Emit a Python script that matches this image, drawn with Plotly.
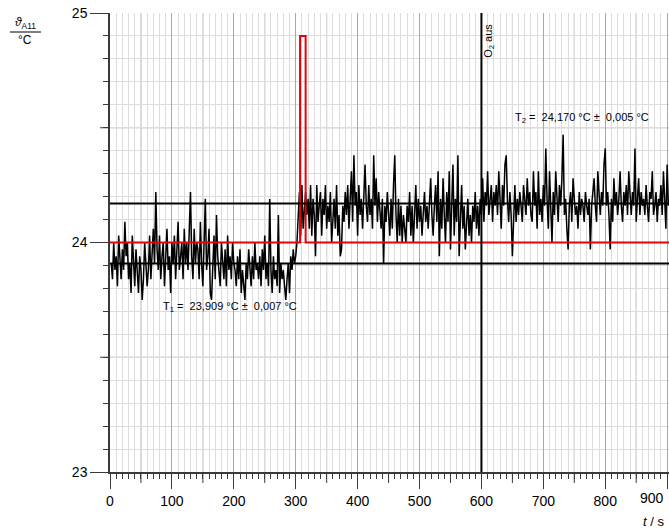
import plotly.graph_objects as go

# ---------------- data ----------------
T_START = 2      # s, first sample
T_STEP = 2       # s, sample interval

temp_before_o2 = [  # °C, t = 2 ... 300 s
    23.91, 23.84, 24.00, 23.88, 23.94, 23.81, 24.03, 23.91, 23.84, 23.97,
    23.88, 24.09, 23.94, 24.00, 23.84, 23.91, 23.78, 24.03, 23.88, 23.81,
    23.97, 23.84, 23.78, 23.94, 23.88, 23.75, 23.84, 24.00, 23.91, 23.81,
    23.88, 24.03, 23.84, 23.94, 24.06, 23.91, 24.22, 23.97, 23.88, 24.03,
    23.84, 23.94, 24.00, 23.81, 23.91, 24.06, 23.88, 23.94, 23.78, 24.00,
    23.91, 24.03, 23.84, 23.97, 24.09, 23.88, 23.94, 24.00, 23.84, 24.06,
    23.91, 24.00, 23.88, 24.12, 24.22, 23.94, 23.84, 24.06, 23.91, 24.00,
    23.97, 23.84, 24.09, 23.91, 23.81, 24.00, 24.19, 23.88, 23.94, 24.06,
    23.78, 23.75, 23.91, 24.03, 23.84, 24.12, 23.94, 23.88, 23.81, 24.00,
    23.91, 23.84, 23.97, 23.81, 24.03, 23.88, 23.94, 23.84, 24.00, 23.91,
    23.88, 23.81, 23.94, 23.84, 23.97, 23.78, 23.88, 23.81, 23.75, 23.91,
    23.84, 23.97, 23.88, 23.81, 23.94, 23.84, 24.00, 23.88, 23.91, 23.84,
    23.94, 23.81, 23.97, 23.88, 24.03, 23.84, 23.91, 23.81, 24.19, 23.88,
    23.78, 23.94, 23.84, 23.88, 23.81, 24.12, 23.78, 23.91, 23.84, 23.88,
    23.81, 23.75, 23.84, 23.91, 23.78, 23.94, 23.88, 23.97, 23.91, 23.94,
]
temp_after_o2 = [  # °C, t = 302 ... 902 s
    24.00, 24.09, 24.22, 24.03, 24.25, 24.06, 24.16, 24.22, 24.12, 24.19,
    24.06, 24.25, 24.03, 24.19, 24.12, 23.94, 24.25, 24.09, 24.16, 24.22,
    24.03, 24.19, 24.12, 24.25, 24.06, 24.16, 24.09, 24.22, 24.00, 24.12,
    24.19, 24.06, 24.25, 24.03, 24.12, 23.94, 23.97, 24.16, 24.09, 24.22,
    24.12, 24.25, 24.06, 24.19, 24.31, 24.09, 24.38, 24.16, 24.22, 24.03,
    24.25, 24.12, 24.19, 24.06, 24.22, 24.34, 24.16, 24.09, 24.25, 24.12,
    24.19, 24.06, 24.38, 24.16, 24.28, 24.09, 24.22, 24.12, 24.06, 24.19,
    23.91, 24.16, 24.09, 24.22, 24.12, 24.03, 24.19, 24.06, 24.25, 24.38,
    24.12, 24.00, 24.19, 24.03, 24.16, 24.00, 24.12, 24.06, 24.00, 24.16,
    24.09, 24.22, 24.03, 24.16, 24.00, 24.12, 24.25, 24.06, 24.19, 24.09,
    24.16, 24.03, 24.12, 24.22, 24.09, 24.16, 24.06, 24.19, 24.28, 24.12,
    24.03, 24.16, 24.25, 24.09, 24.31, 23.94, 24.19, 24.06, 24.28, 24.12,
    24.00, 24.22, 24.09, 24.31, 23.97, 24.16, 24.34, 24.03, 24.19, 24.09,
    24.38, 23.94, 24.12, 24.25, 24.06, 24.16, 23.97, 24.09, 24.19, 24.03,
    24.12, 24.00, 24.16, 24.09, 24.22, 24.06, 24.16, 24.03, 24.19, 24.12,
    24.28, 24.09, 24.22, 24.16, 24.31, 24.12, 24.19, 24.25, 24.09, 24.22,
    24.16, 24.25, 24.12, 24.31, 24.19, 24.06, 24.25, 24.16, 24.34, 24.38,
    24.19, 24.09, 24.22, 24.12, 23.94, 24.16, 24.25, 24.09, 24.19, 24.12,
    24.22, 24.16, 24.09, 24.25, 24.19, 24.12, 24.28, 24.16, 24.22, 24.12,
    24.09, 24.31, 24.16, 24.22, 24.06, 24.31, 24.12, 24.19, 24.09, 24.25,
    24.16, 24.41, 24.19, 24.06, 24.31, 24.16, 24.00, 24.22, 24.12, 24.31,
    24.19, 24.09, 24.25, 24.16, 24.28, 24.47, 24.12, 24.19, 24.06, 23.97,
    24.16, 24.22, 24.09, 24.28, 24.19, 24.12, 24.16, 24.06, 24.22, 24.12,
    24.19, 24.16, 24.09, 24.22, 24.16, 24.12, 24.19, 23.97, 24.16, 24.22,
    24.28, 24.16, 24.09, 24.31, 24.19, 24.12, 24.22, 24.16, 24.34, 24.41,
    24.16, 24.22, 24.12, 23.97, 24.19, 24.09, 24.28, 24.16, 24.22, 24.12,
    24.19, 24.31, 24.16, 24.09, 24.22, 24.16, 24.25, 24.12, 24.31, 24.19,
    24.12, 24.22, 24.16, 24.41, 24.09, 24.19, 24.28, 24.12, 24.22, 24.16,
    24.19, 24.12, 24.25, 24.16, 24.09, 24.22, 24.19, 24.31, 24.12, 24.16,
    24.22, 24.09, 24.19, 24.16, 24.25, 24.12, 24.31, 24.19, 24.06, 24.34,
    24.16,
]

# red reference / marker signal (step)
ref_t = [0, 307, 307, 316, 316, 903]
ref_v = [24.0, 24.0, 24.9, 24.9, 24.0, 24.0]

T1_MEAN = 23.909
T2_MEAN = 24.170
O2_OFF_T = 600

x_range = [0, 903]
y_range = [23, 25]
x_major = [0, 100, 200, 300, 400, 500, 600, 700, 800, 900]
x_labels = ["0", "100", "200", "300", "400", "500", "600", "700", "800", ""]
x_last_label = "900"   # drawn right-aligned at the figure edge, as in the original
x_half = [50, 150, 250, 350, 450, 550, 650, 750, 850]
y_major = [23, 24, 25]
y_labels = ["23", "24", "25"]
y_half = [23.5, 24.5]

# ---------------- figure ----------------
temp = temp_before_o2 + temp_after_o2
t = [T_START + T_STEP * i for i in range(len(temp))]

W, H = 669, 532
ML, MR, MT, MB = 110, 0, 13, 60
PW, PH = W - ML - MR, H - MT - MB

FONT = "Liberation Sans, Arial, sans-serif"
GRID_DARK = "#a8a8a8"
GRID_LIGHT = "#dcdcdc"
AXIS = "#3a3a3a"

fig = go.Figure()
fig.add_trace(go.Scatter(x=t, y=temp, mode="lines",
                         line=dict(color="black", width=1.5),
                         showlegend=False, hoverinfo="skip"))
fig.add_trace(go.Scatter(x=ref_t, y=ref_v, mode="lines",
                         line=dict(color="#e8000b", width=2),
                         showlegend=False, hoverinfo="skip"))

shapes = []
for v in x_half:
    shapes.append(dict(type="line", xref="x", yref="paper", x0=v, x1=v, y0=0, y1=1,
                       line=dict(color=GRID_DARK, width=1), layer="between"))
    shapes.append(dict(type="line", xref="x", yref="paper", x0=v, x1=v, y0=0,
                       y1=-11 / PH, line=dict(color=AXIS, width=1), layer="above"))
for v in y_half:
    shapes.append(dict(type="line", xref="paper", yref="y", x0=0, x1=1, y0=v, y1=v,
                       line=dict(color=GRID_DARK, width=1), layer="between"))
    shapes.append(dict(type="line", xref="paper", yref="y", x0=-10 / PW, x1=0,
                       y0=v, y1=v, line=dict(color=AXIS, width=1), layer="above"))
for v in (T1_MEAN, T2_MEAN):
    shapes.append(dict(type="line", xref="paper", yref="y", x0=0, x1=1, y0=v, y1=v,
                       line=dict(color="black", width=2), layer="above"))
shapes.append(dict(type="line", xref="x", yref="paper", x0=O2_OFF_T, x1=O2_OFF_T,
                   y0=0, y1=1, line=dict(color="black", width=2), layer="above"))
# fraction bar of the y-axis label
shapes.append(dict(type="line", xref="paper", yref="paper",
                   x0=(10 - ML) / PW, x1=(41 - ML) / PW,
                   y0=(H - MB - 32) / PH, y1=(H - MB - 32) / PH,
                   line=dict(color="black", width=1)))

nb = "\u00a0"
annotations = [
    dict(x=651, y=24.541, xref="x", yref="y", xanchor="left", yanchor="middle",
         text=f"T<sub>2</sub>{nb}={nb}{nb}24,170{nb}°C{nb}±{nb}{nb}0,005{nb}°C",
         showarrow=False, font=dict(size=11, color="black", family=FONT)),
    dict(x=83, y=23.72, xref="x", yref="y", xanchor="left", yanchor="middle",
         text=f"T<sub>1</sub>{nb}={nb}{nb}23,909{nb}°C{nb}±{nb}{nb}0,007{nb}°C",
         showarrow=False, font=dict(size=11, color="black", family=FONT)),
    dict(x=612, y=24.878, xref="x", yref="y", xanchor="center", yanchor="middle",
         text="O<sub>2</sub> aus", textangle=-90,
         showarrow=False, font=dict(size=11, color="black", family=FONT)),
    dict(x=(25 - ML) / PW, y=(H - MB - 23) / PH, xref="paper", yref="paper",
         xanchor="center", yanchor="middle",
         text="<i>ϑ</i><sub>A11</sub>",
         showarrow=False, font=dict(size=12, color="black", family=FONT)),
    dict(x=(25 - ML) / PW, y=(H - MB - 40) / PH, xref="paper", yref="paper",
         xanchor="center", yanchor="middle", text="°C",
         showarrow=False, font=dict(size=12, color="black", family=FONT)),
    dict(x=(666 - ML) / PW, y=(H - MB - 521) / PH, xref="paper", yref="paper",
         xanchor="right", yanchor="middle", text="<i>t</i> / s",
         showarrow=False, font=dict(size=13, color="black", family=FONT)),
    dict(x=(666 - ML) / PW, y=(H - MB - 498) / PH, xref="paper", yref="paper",
         xanchor="right", yanchor="middle", text=x_last_label,
         showarrow=False, font=dict(size=14, color="black", family=FONT)),
]

fig.update_layout(
    width=W, height=H,
    margin=dict(l=ML, r=MR, t=MT, b=MB, autoexpand=False),
    paper_bgcolor="white", plot_bgcolor="white",
    font=dict(family=FONT, color="black", size=14),
    shapes=shapes, annotations=annotations, showlegend=False,
    xaxis=dict(range=x_range, tickmode="array", tickvals=x_major, ticktext=x_labels,
               ticks="outside", ticklen=15, tickwidth=1, tickcolor=AXIS,
               showgrid=True, gridcolor=GRID_DARK, gridwidth=1, zeroline=False,
               showline=True, linecolor=AXIS, linewidth=1.5,
               tickfont=dict(size=14, color="black"),
               minor=dict(tickmode="linear", tick0=0, dtick=10, ticks="outside",
                          ticklen=5, tickcolor=AXIS, tickwidth=1,
                          showgrid=True, gridcolor=GRID_LIGHT, gridwidth=1)),
    yaxis=dict(range=y_range, tickmode="array", tickvals=y_major, ticktext=y_labels,
               ticks="outside", ticklen=18, tickwidth=1, tickcolor=AXIS,
               showgrid=True, gridcolor=GRID_DARK, gridwidth=1, zeroline=False,
               showline=True, linecolor=AXIS, linewidth=1.5,
               tickfont=dict(size=14, color="black"),
               minor=dict(tickmode="linear", tick0=23, dtick=0.1, ticks="outside",
                          ticklen=5, tickcolor=AXIS, tickwidth=1,
                          showgrid=True, gridcolor=GRID_LIGHT, gridwidth=1)),
)

fig.write_html(
    "out.html",
    config={"displayModeBar": False},
    post_script="document.body.style.margin='0px';document.body.style.overflow='hidden';",
)
